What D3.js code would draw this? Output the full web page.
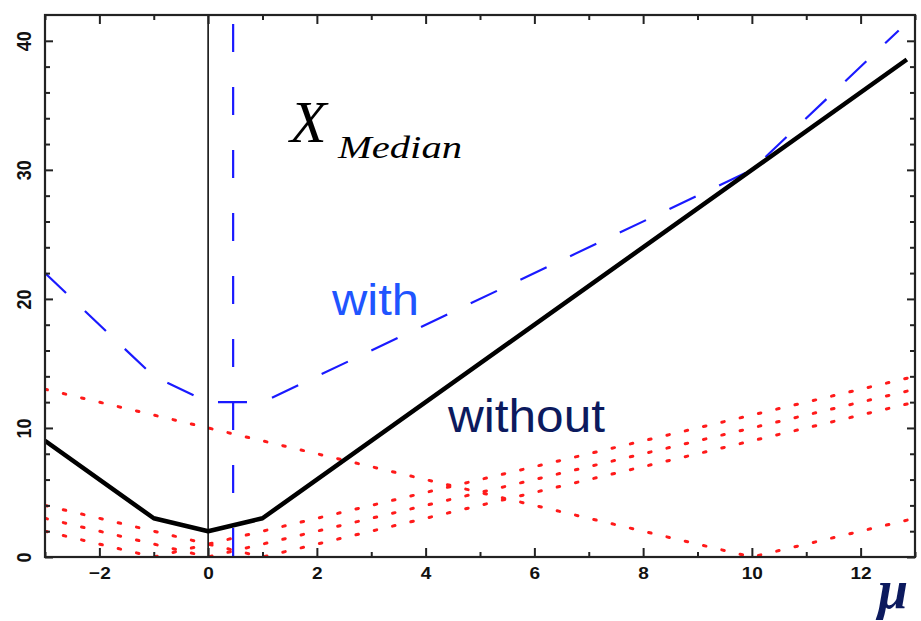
<!DOCTYPE html>
<html>
<head>
<meta charset="utf-8">
<script src="https://cdn.jsdelivr.net/npm/d3@7"></script>
<style>
  html, body { margin: 0; padding: 0; background: #fff; }
  svg { display: block; }
</style>
</head>
<body>
<svg id="chart" width="921" height="621"></svg>
<script>
// ---- data ----
const xDomain = [-3, 13];
const yDomain = [0, 42];
const xMajorTicks = [-2, 0, 2, 4, 6, 8, 10, 12];
const xMinorTicks = [-3, -1, 1, 3, 5, 7, 9, 11, 13];
const yMajorTicks = [0, 10, 20, 30, 40];
const yMinorTicks = [2, 4, 6, 8, 12, 14, 16, 18, 22, 24, 26, 28, 32, 34, 36, 38];

// "without" (solid black)
const withoutMu = [-3, -1, 0, 1, 12.85];
const withoutVal = [9, 3, 2, 3, 38.55];

// "with" (blue dashed)
const withMu = [-3, -1, 0, 1, 10, 12.7];
const withVal = [22, 14, 12, 12, 30, 40.8];

// vertical blue dashed marker and black zero line
const markerMu = 0.46;
const zeroMu = 0;

// red dotted individual terms
const redA_Mu = [-3, -1, 13];  const redA_Val = [2, 0, 14];
const redB_Mu = [-3, 0, 13];   const redB_Val = [3, 0, 13];
const redC_Mu = [-3, 1, 13];   const redC_Val = [4, 0, 12];
const redD_Mu = [-3, 10, 13];  const redD_Val = [13, 0, 3];

// ---- layout ----
const svg = d3.select("#chart");
const L = 45, R = 915, T = 15, B = 557;
const x = d3.scaleLinear().domain(xDomain).range([L, R]);
const y = d3.scaleLinear().domain(yDomain).range([B, T]);

const zip = (a, b) => a.map((v, i) => [v, b[i]]);
const line = d3.line().x(d => x(d[0])).y(d => y(d[1]));

const plot = svg.append("g");
const clipId = "clip";
svg.append("defs").append("clipPath").attr("id", clipId)
  .append("rect").attr("x", L).attr("y", T).attr("width", R - L).attr("height", B - T);
const clipped = plot.append("g").attr("clip-path", `url(#${clipId})`);

// red dotted lines
[[redA_Mu, redA_Val], [redB_Mu, redB_Val], [redC_Mu, redC_Val], [redD_Mu, redD_Val]].forEach(([m, v]) => {
  clipped.append("path")
    .attr("d", line(zip(m, v)))
    .attr("fill", "none")
    .attr("stroke", "#ff1a1a")
    .attr("stroke-width", 3)
    .attr("stroke-linecap", "round")
    .attr("stroke-dasharray", "2.5 16.3");
});

// zero line
clipped.append("line")
  .attr("x1", x(zeroMu)).attr("x2", x(zeroMu))
  .attr("y1", y(yDomain[0])).attr("y2", y(yDomain[1]))
  .attr("stroke", "#111").attr("stroke-width", 1.6);

// blue dashed "with"
clipped.append("path")
  .attr("d", line(zip(withMu, withVal)))
  .attr("fill", "none")
  .attr("stroke", "#1a1aff")
  .attr("stroke-width", 2.2)
  .attr("stroke-dasharray", "29 26");

// vertical blue dashed marker
clipped.append("line")
  .attr("x1", x(markerMu)).attr("x2", x(markerMu))
  .attr("y1", y(yDomain[1])).attr("y2", y(yDomain[0]))
  .attr("stroke", "#1a1aff")
  .attr("stroke-width", 2.2)
  .attr("stroke-dasharray", "0 9 28 26");

// black solid "without"
clipped.append("path")
  .attr("d", line(zip(withoutMu, withoutVal)))
  .attr("fill", "none")
  .attr("stroke", "#000")
  .attr("stroke-width", 4.5)
  .attr("stroke-linejoin", "round");

// ---- axes ----
const axColor = "#222";
function styleAxis(g) {
  g.select(".domain").remove();
  g.selectAll(".tick line").attr("stroke", axColor).attr("stroke-width", 2);
}
// bottom
const gBottom = svg.append("g").attr("transform", `translate(0,${B})`)
  .call(d3.axisBottom(x).tickValues(xMajorTicks).tickSize(-9).tickFormat(d3.format("d")));
styleAxis(gBottom);
gBottom.selectAll(".tick text")
  .attr("y", 22).attr("dy", null)
  .attr("transform", "scale(1.12,1)")
  .attr("fill", "#111")
  .style("font-family", "'Liberation Sans', Arial, sans-serif")
  .style("font-weight", "bold").style("font-size", "17px");
const gBottomMinor = svg.append("g").attr("transform", `translate(0,${B})`)
  .call(d3.axisBottom(x).tickValues(xMinorTicks).tickSize(-5).tickFormat(""));
styleAxis(gBottomMinor);
// top
const gTop = svg.append("g").attr("transform", `translate(0,${T})`)
  .call(d3.axisTop(x).tickValues(xMajorTicks).tickSize(-9).tickFormat(""));
styleAxis(gTop);
const gTopMinor = svg.append("g").attr("transform", `translate(0,${T})`)
  .call(d3.axisTop(x).tickValues(xMinorTicks).tickSize(-5).tickFormat(""));
styleAxis(gTopMinor);
// left
const gLeft = svg.append("g").attr("transform", `translate(${L},0)`)
  .call(d3.axisLeft(y).tickValues(yMajorTicks).tickSize(-8).tickFormat(d3.format("d")));
styleAxis(gLeft);
gLeft.selectAll(".tick text")
  .attr("x", 0).attr("y", -12).attr("dy", null)
  .attr("text-anchor", "middle")
  .attr("transform", "scale(1.15,1) rotate(-90)")
  .attr("fill", "#111")
  .style("font-family", "'Liberation Sans', Arial, sans-serif")
  .style("font-weight", "bold").style("font-size", "18px");
const gLeftMinor = svg.append("g").attr("transform", `translate(${L},0)`)
  .call(d3.axisLeft(y).tickValues(yMinorTicks).tickSize(-5).tickFormat(""));
styleAxis(gLeftMinor);
// right
const gRight = svg.append("g").attr("transform", `translate(${R},0)`)
  .call(d3.axisRight(y).tickValues(yMajorTicks).tickSize(-8).tickFormat(""));
styleAxis(gRight);
const gRightMinor = svg.append("g").attr("transform", `translate(${R},0)`)
  .call(d3.axisRight(y).tickValues(yMinorTicks).tickSize(-5).tickFormat(""));
styleAxis(gRightMinor);

// frame
svg.append("rect")
  .attr("x", L).attr("y", T).attr("width", R - L).attr("height", B - T)
  .attr("fill", "none").attr("stroke", axColor).attr("stroke-width", 2.2);

// ---- annotations ----
const serif = "'Liberation Serif', 'Times New Roman', serif";
const sans = "'Liberation Sans', Arial, sans-serif";
svg.append("text").attr("x", 290).attr("y", 142)
  .style("font-family", serif).style("font-style", "italic").style("font-size", "60px")
  .attr("fill", "#000").text("X");
svg.append("text").attr("x", 338).attr("y", 158)
  .attr("textLength", 124).attr("lengthAdjust", "spacingAndGlyphs")
  .style("font-family", serif).style("font-style", "italic").style("font-size", "31px")
  .attr("fill", "#000").text("Median");
svg.append("text").attr("x", 332).attr("y", 315)
  .attr("textLength", 87).attr("lengthAdjust", "spacingAndGlyphs")
  .style("font-family", sans).style("font-size", "45px")
  .attr("fill", "#1f55ff").text("with");
svg.append("text").attr("x", 448).attr("y", 432)
  .attr("textLength", 157).attr("lengthAdjust", "spacingAndGlyphs")
  .style("font-family", sans).style("font-size", "46px")
  .attr("fill", "#0c1a5e").text("without");
svg.append("text").attr("x", 878).attr("y", 608)
  .style("font-family", serif).style("font-style", "italic").style("font-weight", "bold")
  .style("font-size", "54px")
  .attr("fill", "#0c1a5e").text("μ");
</script>
</body>
</html>
